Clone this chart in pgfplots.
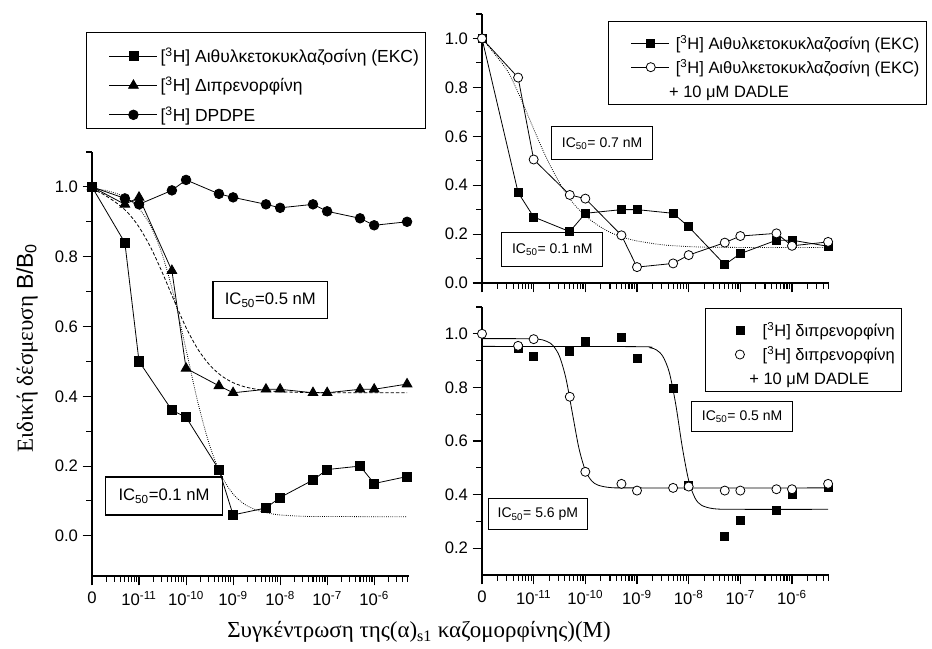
\documentclass[border=0pt]{standalone}
\usepackage{fontspec}
\setmainfont{Liberation Serif}
\newfontfamily\arial{Liberation Sans}
\usepackage{pgfplots}
\pgfplotsset{compat=1.18}

\newcommand\tickfont{\arial\fontsize{12.5}{14}\selectfont}
\newcommand\legfont{\arial\fontsize{12.35}{14}\selectfont}
\newcommand\bigleg{\arial\fontsize{13.1}{15}\selectfont}
\newcommand\bigboxfont{\arial\fontsize{12.5}{14}\selectfont}
\newcommand\boxfont{\arial\fontsize{10.5}{12}\selectfont}
\newcommand\labelfont{\fontsize{17.2}{20}\selectfont}

\pgfplotsset{
  panelbase/.style={
    scale only axis, clip=false,
    axis x line*=bottom, axis y line*=left,
    axis line style={line width=1.3pt, -},
    tick style={black, line width=0.8pt},
    tick align=outside,
    major tick length=7pt, minor tick length=4.3pt,
    xmin=1e-12,
    xtick={1e-12,1e-11,1e-10,1e-9,1e-8,1e-7,1e-6},
    minor xtick={2e-12,3e-12,4e-12,5e-12,6e-12,7e-12,8e-12,9e-12,
      2e-11,3e-11,4e-11,5e-11,6e-11,7e-11,8e-11,9e-11,
      2e-10,3e-10,4e-10,5e-10,6e-10,7e-10,8e-10,9e-10,
      2e-9,3e-9,4e-9,5e-9,6e-9,7e-9,8e-9,9e-9,
      2e-8,3e-8,4e-8,5e-8,6e-8,7e-8,8e-8,9e-8,
      2e-7,3e-7,4e-7,5e-7,6e-7,7e-7,8e-7,9e-7,
      2e-6,3e-6,4e-6,5e-6},
    tick label style={font=\tickfont},
    xticklabel style={yshift=-1pt},
    legend style={font=\legfont, draw=black, line width=0.6pt,
      cells={anchor=base west},
      inner xsep=3pt, inner ysep=2pt, row sep=-4.5pt,
      nodes={inner sep=2pt, text height=16.95pt, text depth=1.55pt}},
  },
  conclabels/.style={xticklabels={0,10\textsuperscript{-11},10\textsuperscript{-10},
      10\textsuperscript{-9},10\textsuperscript{-8},10\textsuperscript{-7},10\textsuperscript{-6}}},
  % legend samples: a line with its marker, raised to the middle of the capitals
  widelegend/.style={legend image code/.code={%
      \path (0pt,0pt) (50pt,0pt);
      \draw[mark repeat=2,mark phase=2,##1] plot coordinates {(14pt,4.7pt) (32pt,4.7pt) (50pt,4.7pt)};}},
  linedlegend/.style={legend image code/.code={%
      \path (0pt,0pt) (45pt,0pt);
      \draw[mark repeat=2,mark phase=2,##1] plot coordinates {(13.75pt,4.4pt) (28.5pt,4.4pt) (42.5pt,4.4pt)};}},
  markslegend/.style={legend image code/.code={%
      \path (0pt,0pt) (37.3pt,0pt);
      \draw[##1] plot coordinates {(22.5pt,4.4pt)};}},
}
\tikzset{
  measured/.style={black, line width=0.6pt, mark options={solid, line width=0.6pt}},
  fitline/.style={black, line width=0.6pt, smooth},
}

\begin{document}
\begin{tikzpicture}[x=1pt,y=1pt]
\useasboundingbox (0,0) rectangle (699,486.75);

% ---------- left panel: three radioligands ----------
\begin{axis}[xmode=log, panelbase, conclabels, widelegend,
  at={(69pt,54.75pt)}, anchor=south west,
  width=237.75pt, height=318pt,
  xmax=5.5e-6, ymin=-0.115, ymax=1.1,
  ytick={0,0.2,0.4,0.6,0.8,1.0},
  yticklabels={0.0,0.2,0.4,0.6,0.8,1.0},
  minor ytick={0.1,0.3,0.5,0.7,0.9,1.1},
  legend style={at={(-0.019,1.282)}, anchor=north west, font=\bigleg,
    inner ysep=2pt, row sep=-1.5pt,
    nodes={inner sep=2pt, text height=18.2pt, text depth=1.3pt}},
]
% fitted curves
\addplot[fitline, densely dotted, forget plot] coordinates {
  (1e-12,0.995) (1.78e-12,0.991) (3.16e-12,0.982) (5.62e-12,0.967)
  (1e-11,0.938) (1.78e-11,0.887) (3.16e-11,0.804) (5.62e-11,0.683)
  (1e-10,0.534) (1.78e-10,0.383) (3.16e-10,0.260) (5.62e-10,0.173)
  (1e-9,0.120) (1.78e-9,0.090) (3.16e-9,0.074) (5.62e-9,0.065)
  (1e-8,0.060) (3.16e-8,0.056) (1e-7,0.0555) (1e-6,0.055) (5e-6,0.055)};
\addplot[fitline, dash pattern=on 2.5pt off 1.5pt, forget plot] coordinates {
  (1e-12,0.995) (1.78e-12,0.978) (3.16e-12,0.956) (5.62e-12,0.928)
  (1e-11,0.885) (1.78e-11,0.826) (3.16e-11,0.753) (5.62e-11,0.673)
  (1e-10,0.597) (1.78e-10,0.535) (3.16e-10,0.490) (5.62e-10,0.459)
  (1e-9,0.439) (1.78e-9,0.427) (3.16e-9,0.420) (5.62e-9,0.416)
  (1e-8,0.413) (3.16e-8,0.411) (1e-7,0.4104) (1e-6,0.41) (5e-6,0.41)};
% measured points
\addplot[measured, mark=square*, mark size=3.4pt] coordinates {
  (1e-12,1.00) (5e-12,0.84) (1e-11,0.50) (5e-11,0.36) (1e-10,0.34)
  (5e-10,0.19) (1e-9,0.06) (5e-9,0.08) (1e-8,0.11) (5e-8,0.16)
  (1e-7,0.19) (5e-7,0.20) (1e-6,0.15) (5e-6,0.17)};
\addlegendentry{[\textsuperscript{3}H] Αιθυλκετοκυκλαζοσίνη (EKC)}
\addplot[measured, mark=triangle*, mark size=4.2pt] coordinates {
  (1e-12,1.00) (5e-12,0.95) (1e-11,0.97) (5e-11,0.76) (1e-10,0.48)
  (5e-10,0.43) (1e-9,0.41) (5e-9,0.42) (1e-8,0.42) (5e-8,0.41)
  (1e-7,0.41) (5e-7,0.42) (1e-6,0.42) (5e-6,0.435)};
\addlegendentry{[\textsuperscript{3}H] Διπρενορφίνη}
\addplot[measured, mark=*, mark size=3.6pt] coordinates {
  (1e-12,1.00) (5e-12,0.967) (1e-11,0.95) (5e-11,0.99) (1e-10,1.02)
  (5e-10,0.98) (1e-9,0.97) (5e-9,0.95) (1e-8,0.94) (5e-8,0.95)
  (1e-7,0.93) (5e-7,0.91) (1e-6,0.89) (5e-6,0.90)};
\addlegendentry{[\textsuperscript{3}H] DPDPE}
\end{axis}

% ---------- top right: EKC with and without DADLE ----------
\begin{axis}[xmode=log, panelbase, linedlegend,
  at={(361.5pt,274.5pt)}, anchor=south west,
  width=260.25pt, height=201.75pt,
  xmax=5.2e-6, ymin=0, ymax=1.1,
  xticklabels={},
  ytick={0,0.2,0.4,0.6,0.8,1.0},
  yticklabels={0.0,0.2,0.4,0.6,0.8,1.0},
  minor ytick={0.1,0.3,0.5,0.7,0.9,1.1},
  legend style={at={(0.363,0.975)}, anchor=north west},
]
\addplot[fitline, densely dotted, forget plot] coordinates {
  (1e-12,1.0) (1.78e-12,0.935) (3.16e-12,0.865) (5.62e-12,0.755)
  (1e-11,0.63) (1.78e-11,0.51) (3.16e-11,0.41) (5.62e-11,0.33)
  (1e-10,0.275) (1.78e-10,0.235) (3.16e-10,0.205) (5.62e-10,0.186)
  (1e-9,0.172) (3.16e-9,0.156) (1e-8,0.149) (3.16e-8,0.146)
  (1e-6,0.145) (5e-6,0.145)};
\addplot[measured, mark=square*, mark size=3pt] coordinates {
  (1e-12,1.00) (5e-12,0.37) (1e-11,0.27) (5e-11,0.21) (1e-10,0.285)
  (5e-10,0.30) (1e-9,0.30) (5e-9,0.285) (1e-8,0.23) (5e-8,0.075)
  (1e-7,0.12) (5e-7,0.175) (1e-6,0.175) (5e-6,0.15)};
\addlegendentry{[\textsuperscript{3}H] Αιθυλκετοκυκλαζοσίνη (EKC)}
\addplot[measured, mark=*, mark size=3.4pt, mark options={fill=white}] coordinates {
  (1e-12,1.00) (5e-12,0.84) (1e-11,0.505) (5e-11,0.36) (1e-10,0.345)
  (5e-10,0.195) (1e-9,0.065) (5e-9,0.08) (1e-8,0.114) (5e-8,0.165)
  (1e-7,0.192) (5e-7,0.203) (1e-6,0.152) (5e-6,0.168)};
\addlegendentry{[\textsuperscript{3}H] Αιθυλκετοκυκλαζοσίνη (EKC)}
\addlegendimage{empty legend}
\addlegendentry{\hspace*{-5pt}+ 10 μM DADLE}
\end{axis}

% ---------- bottom right: diprenorphine with and without DADLE ----------
\begin{axis}[xmode=log, panelbase, conclabels, markslegend,
  at={(361.5pt,55.5pt)}, anchor=south west,
  width=260.25pt, height=201pt,
  xmax=5.2e-6, ymin=0.1, ymax=1.1,
  ytick={0.2,0.4,0.6,0.8,1.0},
  yticklabels={0.2,0.4,0.6,0.8,1.0},
  minor ytick={0.3,0.5,0.7,0.9,1.1},
  legend style={at={(0.643,0.996)}, anchor=north west},
]
\addplot[fitline, forget plot] coordinates {
  (1e-12,0.982) (1e-11,0.981) (1.78e-11,0.972) (2.37e-11,0.956)
  (3.16e-11,0.916) (4.22e-11,0.833) (5.62e-11,0.7035) (7.5e-11,0.574)
  (1e-10,0.4905) (1.33e-10,0.451) (1.78e-10,0.435) (3.16e-10,0.426)
  (1e-9,0.425) (5e-6,0.425)};
\addplot[fitline, forget plot] coordinates {
  (1e-12,0.953) (1e-9,0.952) (1.78e-9,0.948) (2.37e-9,0.940)
  (3.16e-9,0.916) (4.22e-9,0.856) (5.62e-9,0.737) (7.5e-9,0.579)
  (1e-8,0.453) (1.33e-8,0.387) (1.78e-8,0.360) (3.16e-8,0.347)
  (1e-7,0.345) (5e-6,0.345)};
\addplot[measured, only marks, mark=square*, mark size=3pt] coordinates {
  (5e-12,0.945) (1e-11,0.915) (5e-11,0.935) (1e-10,0.97) (5e-10,0.985)
  (1e-9,0.91) (5e-9,0.795) (1e-8,0.435) (5e-8,0.245) (1e-7,0.305)
  (5e-7,0.34) (1e-6,0.40) (5e-6,0.425)};
\addlegendentry{[\textsuperscript{3}H] διπρενορφίνη}
\addplot[measured, only marks, mark=*, mark size=3.4pt, mark options={fill=white}] coordinates {
  (1e-12,1.00) (5e-12,0.955) (1e-11,0.98) (5e-11,0.765) (1e-10,0.485)
  (5e-10,0.44) (1e-9,0.415) (5e-9,0.425) (1e-8,0.43) (5e-8,0.415)
  (1e-7,0.415) (5e-7,0.42) (1e-6,0.42) (5e-6,0.44)};
\addlegendentry{[\textsuperscript{3}H] διπρενορφίνη}
\addlegendimage{empty legend}
\addlegendentry{\hspace*{-10pt}+ 10 μM DADLE}
\end{axis}

% IC50 annotations
\tikzset{icbox/.style={draw=black, line width=0.8pt, inner sep=0pt, align=center}}
\node[icbox, minimum width=86pt, minimum height=27.5pt, font=\bigboxfont] at (202.75,261.75) {IC\textsubscript{50}=0.5 nM};
\node[icbox, minimum width=88pt, minimum height=28.5pt, font=\bigboxfont] at (123,114.75) {IC\textsubscript{50}=0.1 nM};
\node[icbox, minimum width=75.75pt, minimum height=25pt, font=\boxfont] at (451.6,379.3) {IC\textsubscript{50}= 0.7 nM};
\node[icbox, minimum width=75.75pt, minimum height=25.8pt, font=\boxfont] at (414.2,299.6) {IC\textsubscript{50}= 0.1 nM};
\node[icbox, minimum width=75.75pt, minimum height=22.5pt, font=\boxfont] at (556.6,174.2) {IC\textsubscript{50}= 0.5 nM};
\node[icbox, minimum width=74.25pt, minimum height=23.25pt, font=\boxfont] at (403.4,100.9) {IC\textsubscript{50}= 5.6 pM};

% shared axis titles
\node[rotate=90, font=\labelfont] at (20.25,225.75) {Ειδική δέσμευση {\arial B/B\textsubscript{0}}};
\node[font=\labelfont] at (314.25,12.75) {Συγκέντρωση της(α)\textsubscript{s1} καζομορφίνης)(M)};
\end{tikzpicture}
\end{document}
